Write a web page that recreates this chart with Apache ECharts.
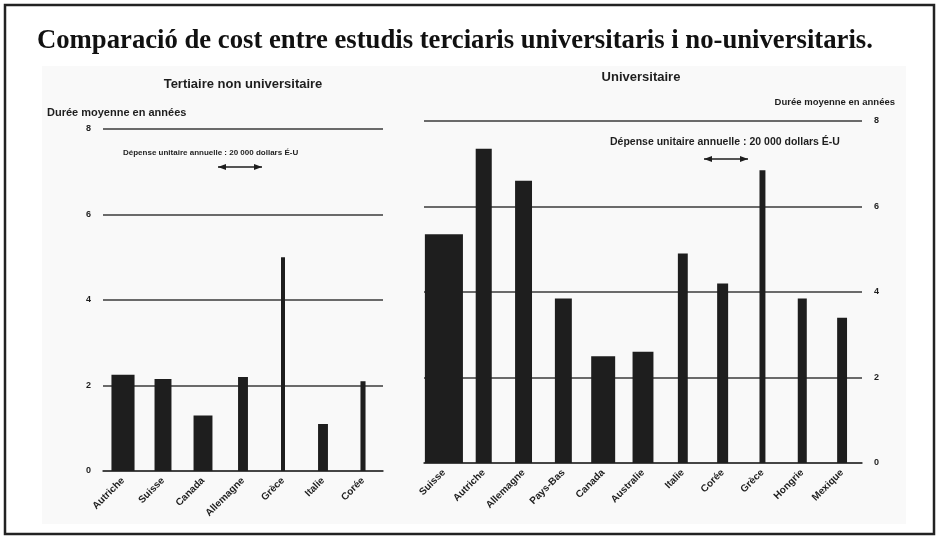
<!DOCTYPE html>
<html>
<head>
<meta charset="utf-8">
<script src="https://cdn.jsdelivr.net/npm/echarts@6/dist/echarts.min.js"></script>
<style>
  html, body { margin: 0; padding: 0; background: #fff; }
  #chart { width: 939px; height: 539px; }
</style>
</head>
<body>
<div id="chart"></div>
<script>
// Tertiaire non universitaire
var nonUnivCountries = ['Autriche', 'Suisse', 'Canada', 'Allemagne', 'Grèce', 'Italie', 'Corée'];
var nonUnivYears = [2.25, 2.15, 1.3, 2.2, 5.0, 1.1, 2.1];          // durée moyenne en années
var nonUnivCost = [10.5, 7.7, 8.6, 4.5, 1.8, 4.5, 2.3];            // dépense annuelle, milliers $ É-U

// Universitaire
var univCountries = ['Suisse', 'Autriche', 'Allemagne', 'Pays-Bas', 'Canada', 'Australie',
    'Italie', 'Corée', 'Grèce', 'Hongrie', 'Mexique'];
var univYears = [5.35, 7.35, 6.6, 3.85, 2.5, 2.6, 4.9, 4.2, 6.85, 3.85, 3.4];
var univCost = [17.3, 7.3, 7.7, 7.7, 10.9, 9.5, 4.5, 5.0, 2.7, 4.1, 4.5];

var yTicks = [0, 2, 4, 6, 8];

var pxPerK = 2.2;   // largeur en pixels pour 1000 dollars
var scanFont = 'Liberation Sans';
var ink = '#1e1e1e';

var chart = echarts.init(document.getElementById('chart'));

function toData(years, cost) {
    var out = [];
    for (var i = 0; i < years.length; i++) {
        out.push([i, years[i], cost[i]]);
    }
    return out;
}

function renderBar(params, api) {
    var top = api.coord([api.value(0), api.value(1)]);
    var base = api.coord([api.value(0), 0]);
    var w = api.value(2) * pxPerK;
    return {
        type: 'rect',
        shape: { x: top[0] - w / 2, y: top[1], width: w, height: base[1] - top[1] },
        style: { fill: ink }
    };
}

function yAxisOpt(gridIndex, pos) {
    return {
        type: 'value',
        gridIndex: gridIndex,
        position: pos,
        min: 0,
        max: 8,
        interval: 2,
        axisLine: { show: false },
        axisTick: { show: false },
        axisLabel: {
            color: ink, fontSize: 9, fontWeight: 'bold', fontFamily: scanFont, margin: 12,
            formatter: function (v) { return yTicks.indexOf(v) >= 0 ? v : ''; }
        },
        splitLine: { lineStyle: { color: '#3a3a3a', width: 1.6 } }
    };
}

function xAxisOpt(gridIndex, cats) {
    return {
        type: 'category',
        gridIndex: gridIndex,
        data: cats,
        axisLine: { show: true, lineStyle: { color: '#3a3a3a', width: 1.6 } },
        axisTick: { show: false },
        axisLabel: {
            interval: 0, rotate: 45, color: ink, fontSize: 10, fontWeight: 'bold',
            fontFamily: scanFont, margin: 8
        }
    };
}

function arrow(cx, y) {
    var half = 20 * pxPerK / 2;
    return [
        { type: 'line', shape: { x1: cx - half, y1: y, x2: cx + half, y2: y },
          style: { stroke: ink, lineWidth: 1.5 } },
        { type: 'polygon', shape: { points: [[cx - half, y], [cx - half + 8, y - 3], [cx - half + 8, y + 3]] },
          style: { fill: ink } },
        { type: 'polygon', shape: { points: [[cx + half, y], [cx + half - 8, y - 3], [cx + half - 8, y + 3]] },
          style: { fill: ink } }
    ];
}

function txt(size) {
    return { color: ink, fontSize: size, fontWeight: 'bold', fontFamily: scanFont };
}

option = {
    backgroundColor: '#fff',
    title: [
        {
            text: 'Comparació de cost entre estudis terciaris universitaris i no-universitaris.',
            left: 37, top: 28, padding: 0,
            textStyle: { fontFamily: 'Liberation Serif', fontWeight: 'bold', fontSize: 26.7, color: '#111' }
        },
        { text: 'Tertiaire non universitaire', left: 243, top: 78, padding: 0, textAlign: 'center', textStyle: txt(13) },
        { text: 'Durée moyenne en années', left: 47, top: 107, padding: 0, textStyle: txt(11) },
        { text: 'Dépense unitaire annuelle : 20 000 dollars É-U', left: 123, top: 149, padding: 0, textStyle: txt(8) },
        { text: 'Universitaire', left: 641, top: 71, padding: 0, textAlign: 'center', textStyle: txt(13) },
        { text: 'Durée moyenne en années', right: 44, top: 97, padding: 0, textStyle: txt(9.5) },
        { text: 'Dépense unitaire annuelle : 20 000 dollars É-U', left: 610, top: 137, padding: 0, textStyle: txt(10.5) }
    ],
    grid: [
        { left: 103, width: 280, top: 129, height: 342 },
        { left: 424, width: 438, top: 121, height: 342 }
    ],
    xAxis: [xAxisOpt(0, nonUnivCountries), xAxisOpt(1, univCountries)],
    yAxis: [yAxisOpt(0, 'left'), yAxisOpt(1, 'right')],
    series: [
        {
            name: 'Tertiaire non universitaire',
            type: 'custom',
            xAxisIndex: 0, yAxisIndex: 0,
            renderItem: renderBar,
            encode: { x: 0, y: 1 },
            data: toData(nonUnivYears, nonUnivCost)
        },
        {
            name: 'Universitaire',
            type: 'custom',
            xAxisIndex: 1, yAxisIndex: 1,
            renderItem: renderBar,
            encode: { x: 0, y: 1 },
            data: toData(univYears, univCost)
        }
    ],
    graphic: [
        { type: 'rect', z: -10, shape: { x: 42, y: 66, width: 864, height: 458 },
          style: { fill: '#f9f9f9' } },
        { type: 'rect', z: 100, shape: { x: 5, y: 5, width: 929, height: 529 },
          style: { fill: 'none', stroke: '#222', lineWidth: 2.5 } }
    ].concat(arrow(240, 167)).concat(arrow(726, 159))
};

chart.setOption(option);
</script>
</body>
</html>
